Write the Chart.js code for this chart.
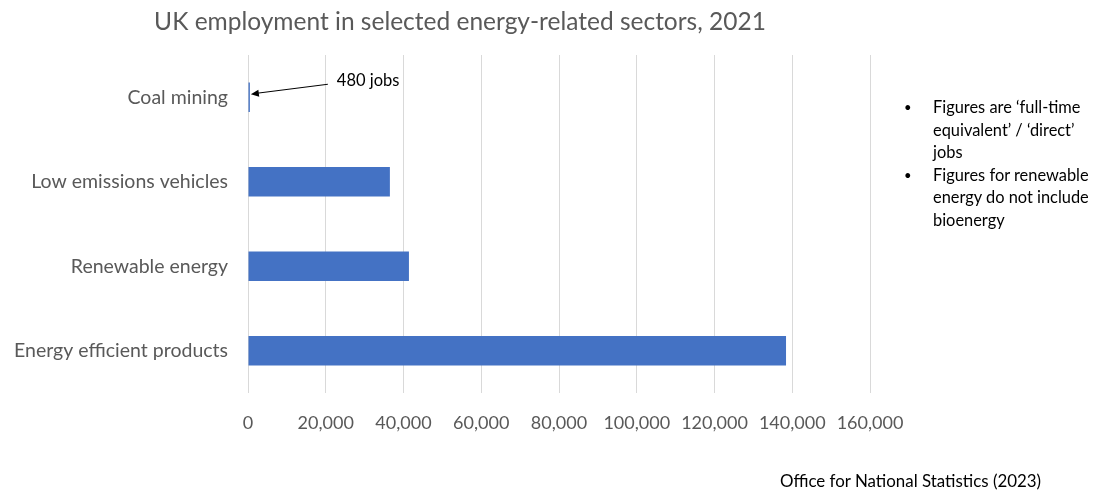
<!DOCTYPE html>
<html>
<head>
<meta charset="utf-8">
<script src="https://cdn.jsdelivr.net/npm/chart.js@4"></script>
<style>
  html, body { margin: 0; padding: 0; background: #fff; }
  #wrap { position: relative; width: 1107px; height: 491px; }
  #notes {
    position: absolute; left: 903px; top: 96px; width: 204px;
    font-family: Lato, sans-serif; font-size: 16.4px; line-height: 22.6px; color: #000;
    margin: 0; padding: 0; list-style: none;
  }
  #notes li { position: relative; padding-left: 30px; }
  #notes li::before { content: "\2022"; position: absolute; left: 1px; font-size: 13px; }
  #source {
    position: absolute; left: 780px; top: 470px;
    font-family: Lato, sans-serif; font-size: 16.9px; color: #000;
  }
</style>
</head>
<body>
<div id="wrap">
  <canvas id="jobsChart" width="1107" height="491"></canvas>
  <ul id="notes">
    <li>Figures are ‘full-time equivalent’ / ‘direct’ jobs</li>
    <li>Figures for renewable energy do not include bioenergy</li>
  </ul>
  <div id="source">Office for National Statistics (2023)</div>
</div>
<script>
const sectors = ['Coal mining', 'Low emissions vehicles', 'Renewable energy', 'Energy efficient products'];
const jobs = [480, 36500, 41400, 138400];
const xTicks = [0, 20000, 40000, 60000, 80000, 100000, 120000, 140000, 160000];
const chartTitle = 'UK employment in selected energy-related sectors, 2021';
const coalNote = '480 jobs';

const grey = '#595959';

// title and the arrow pointing at the tiny coal bar
const extras = {
    id: 'extras',
    afterDraw(chart) {
        const ctx = chart.ctx;
        ctx.save();
        ctx.fillStyle = grey;
        ctx.font = '24.5px Lato, sans-serif';
        ctx.textAlign = 'center';
        ctx.textBaseline = 'middle';
        ctx.fillText(chartTitle, 460, 22);

        const xs = chart.scales.x;
        const ys = chart.scales.y;
        const tx = xs.getPixelForValue(jobs[0]) + 1;
        const ty = ys.getPixelForValue(0) - 3;
        const sx = tx + 77;
        const sy = ty - 10;
        ctx.strokeStyle = '#000';
        ctx.fillStyle = '#000';
        ctx.lineWidth = 1;
        ctx.beginPath();
        ctx.moveTo(sx, sy);
        ctx.lineTo(tx + 6, ty - 1);
        ctx.stroke();
        const ang = Math.atan2(ty - sy, tx - sx);
        ctx.beginPath();
        ctx.moveTo(tx, ty);
        ctx.lineTo(tx - 8 * Math.cos(ang) + 3.5 * Math.sin(ang), ty - 8 * Math.sin(ang) - 3.5 * Math.cos(ang));
        ctx.lineTo(tx - 8 * Math.cos(ang) - 3.5 * Math.sin(ang), ty - 8 * Math.sin(ang) + 3.5 * Math.cos(ang));
        ctx.closePath();
        ctx.fill();

        ctx.font = '16.5px Lato, sans-serif';
        ctx.textAlign = 'left';
        ctx.fillText(coalNote, sx + 9, sy - 4);
        ctx.restore();
    }
};

const ctx = document.getElementById('jobsChart').getContext('2d');
const jobsChart = new Chart(ctx, {
    type: 'bar',
    data: {
        labels: sectors,
        datasets: [{
            label: 'Jobs',
            data: jobs,
            backgroundColor: '#4472C4',
            barPercentage: 0.7,
            categoryPercentage: 0.5
        }]
    },
    options: {
        indexAxis: 'y',
        responsive: false,
        animation: false,
        layout: {
            padding: { left: 10, right: 237, top: 55, bottom: 0 }
        },
        plugins: {
            legend: { display: false },
            tooltip: { enabled: false }
        },
        scales: {
            x: {
                min: 0,
                max: 160000,
                afterFit: function(scale) { scale.height = 98; },
                afterBuildTicks: function(scale) {
                    scale.ticks = xTicks.map(v => ({ value: v }));
                },
                grid: { color: '#d9d9d9', drawTicks: false },
                border: { display: false },
                ticks: {
                    color: grey,
                    padding: 19,
                    maxRotation: 0,
                    font: { family: 'Lato, sans-serif', size: 18 },
                    callback: function(value) {
                        return value.toLocaleString('en-GB');
                    }
                }
            },
            y: {
                afterFit: function(scale) { scale.width = 238; },
                grid: { display: false, drawTicks: false },
                border: { display: false },
                ticks: {
                    color: grey,
                    padding: 20,
                    font: { family: 'Lato, sans-serif', size: 19.5 }
                }
            }
        }
    },
    plugins: [extras]
});
</script>
</body>
</html>
